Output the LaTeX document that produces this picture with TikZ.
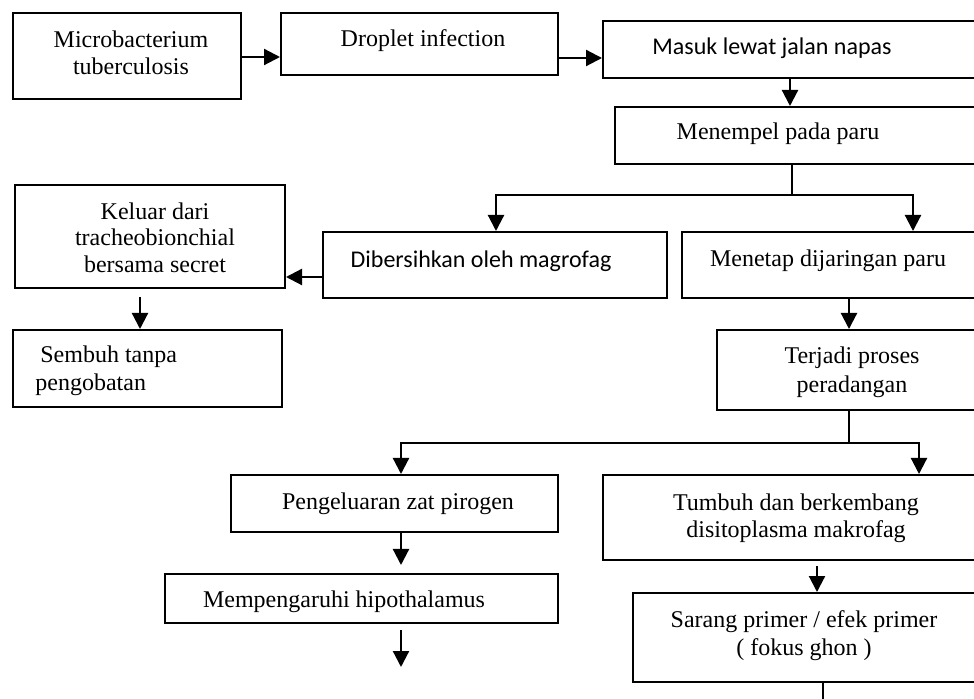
\documentclass[tikz,border=0pt]{standalone}
\usepackage{fontspec}
\setmainfont{Liberation Serif}
\newfontfamily\calibri{Carlito}
\usetikzlibrary{arrows.meta,fit}
\tikzset{
  box/.style={draw, line width=1pt, inner sep=0pt, rectangle},
  txt/.style={inner sep=0pt, font=\fontsize{12pt}{13.5pt}\selectfont, align=center},
  ctxt/.style={inner sep=0pt, font=\calibri\fontsize{12pt}{13.5pt}\selectfont},
  arr/.style={line width=1.1pt, -{Triangle[length=8pt,width=8pt]}},
  ln/.style={line width=1.1pt}
}
\begin{document}
\begin{tikzpicture}[x=0.5pt,y=-0.5pt]
\path[use as bounding box] (0,0) rectangle (974,699);
\clip (0,0) rectangle (974,699);
% boxes
\node[box, fit={(13,13) (241,99)}] (b1) {};
\node[box, fit={(281,13) (558,75)}] (b2) {};
\node[box, fit={(603,21) (1000,78)}] (b3) {};
\node[box, fit={(615,107) (1000,164)}] (b4) {};
\node[box, fit={(323,232) (667,298)}] (b5) {};
\node[box, fit={(682,232) (1000,298)}] (b6) {};
\node[box, fit={(15,185) (285,288)}] (b7) {};
\node[box, fit={(13,330) (282,407)}] (b8) {};
\node[box, fit={(717,330) (1000,410)}] (b9) {};
\node[box, fit={(231,475) (558,532)}] (b10) {};
\node[box, fit={(603,475) (1000,560)}] (b11) {};
\node[box, fit={(165,574) (558,623)}] (b12) {};
\node[box, fit={(633,593) (1000,682)}] (b13) {};
% texts
\node[txt] (t1) at (131,52.3) {Microbacterium\\tuberculosis};
\node[txt, anchor=base] (t2) at (423,47) {Droplet infection};
\node[ctxt, anchor=base] (t3) at (772,55) {Masuk lewat jalan napas};
\node[txt, anchor=base] (t4) at (778,140) {Menempel pada paru};
\node[ctxt, anchor=base] (t5) at (481,268) {Dibersihkan oleh magrofag};
\node[txt, anchor=base] (t6) at (828,267) {Menetap dijaringan paru};
\node[txt, font=\fontsize{12pt}{13.25pt}\selectfont] (t7) at (155,237.3) {Keluar dari\\tracheobionchial\\bersama secret};
\node[txt, align=left, anchor=west, font=\fontsize{12pt}{14pt}\selectfont] (t8) at (35,370.5) {\hspace*{2.5pt}Sembuh tanpa\\pengobatan};
\node[txt, font=\fontsize{12pt}{14.5pt}\selectfont] (t9) at (852,372) {Terjadi proses\\peradangan};
\node[txt, anchor=base] (t10) at (398,510) {Pengeluaran zat pirogen};
\node[txt] (t11) at (796,518) {Tumbuh dan berkembang\\disitoplasma makrofag};
\node[txt, anchor=base] (t12) at (344,607) {Mempengaruhi hipothalamus};
\node[txt, font=\fontsize{12pt}{14pt}\selectfont] (t13) at (804,635.5) {Sarang primer / efek primer\\( fokus ghon )};
% helper coordinates
\coordinate (c12) at (0,57);
\coordinate (c23) at (0,58);
\coordinate (c34) at (790,0);
\coordinate (s4) at (792,195);
\coordinate (k5) at (496,195);
\coordinate (k6) at (913,195);
\coordinate (c57) at (0,277);
\coordinate (c78) at (140,297);
\coordinate (c69) at (849,0);
\coordinate (s9) at (849,443);
\coordinate (k10) at (401,443);
\coordinate (k11) at (919,443);
\coordinate (e1012) at (401,565);
\coordinate (f12) at (401,630);
\coordinate (f12e) at (401,667);
\coordinate (c1113) at (817,566);
\coordinate (f13) at (823,710);
% connectors
\draw[arr] (b1.east |- c12) -- (b2.west |- c12);
\draw[arr] (b2.east |- c23) -- (b3.west |- c23);
\draw[arr] (b3.south -| c34) -- (b4.north -| c34);
\draw[ln] (b4.south -| s4) -- (s4);
\draw[arr] (s4) -- (k5) -- (b5.north -| k5);
\draw[arr] (s4) -- (k6) -- (b6.north -| k6);
\draw[arr] (b5.west |- c57) -- (b7.east |- c57);
\draw[arr] (c78) -- (b8.north -| c78);
\draw[arr] (b6.south -| c69) -- (b9.north -| c69);
\draw[ln] (b9.south -| s9) -- (s9);
\draw[arr] (s9) -- (k10) -- (b10.north -| k10);
\draw[arr] (s9) -- (k11) -- (b11.north -| k11);
\draw[arr] (b10.south -| e1012) -- (e1012);
\draw[arr] (f12) -- (f12e);
\draw[arr] (c1113) -- (b13.north -| c1113);
\draw[ln] (b13.south -| f13) -- (f13);
\end{tikzpicture}
\end{document}
